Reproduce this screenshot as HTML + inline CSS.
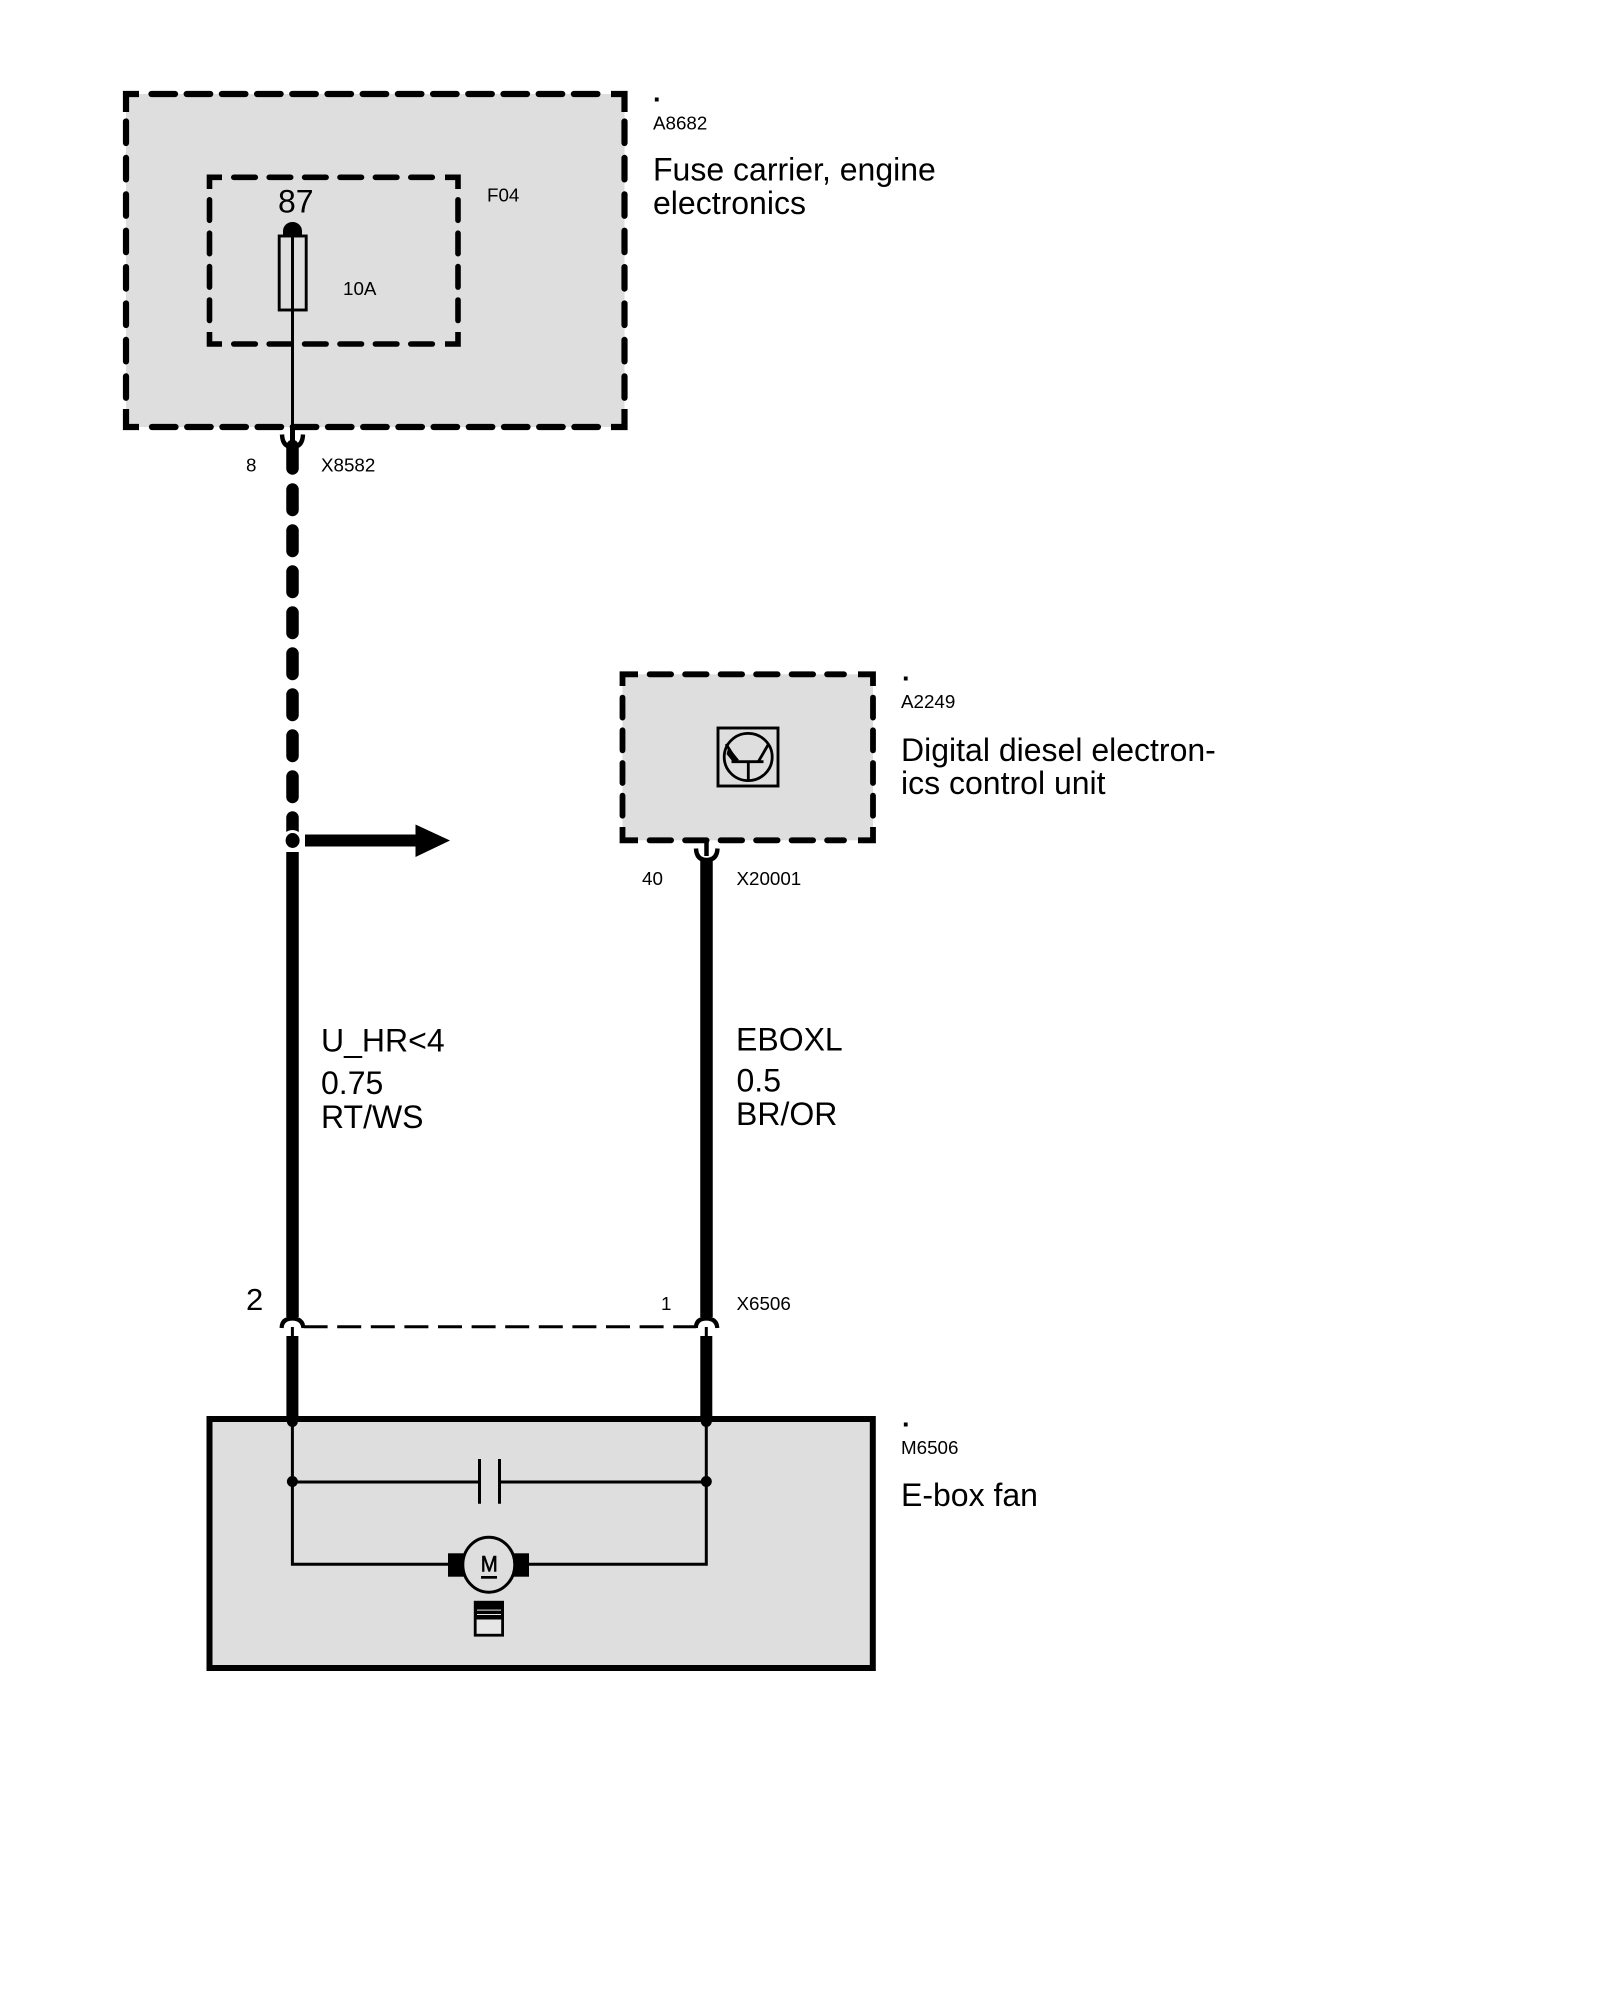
<!DOCTYPE html>
<html lang="en">
<head>
<meta charset="utf-8">
<title>E-box fan wiring diagram</title>
<style>
html,body{margin:0;padding:0;background:#fff}
svg{display:block}
text{font-family:"Liberation Sans",Arial,sans-serif;fill:#000}
.s{font-size:18.8px}
.l{font-size:32px}
.d{font-size:27px;font-weight:bold}
</style>
</head>
<body>
<svg xmlns="http://www.w3.org/2000/svg" width="1600" height="2000" viewBox="0 0 1600 2000">
<rect width="1600" height="2000" fill="#fff"/>

<!-- Fuse carrier box -->
<rect x="126" y="94" width="498.5" height="333" fill="#dedede"/>
<g fill="none" stroke="#000" stroke-width="6.2">
  <path d="M126 112V94H139M611 94H624.5V112M126 409V427H139M611 427H624.5V409" stroke-linejoin="miter"/>
  <g stroke-linecap="round">
    <path d="M151.5 94H600" stroke-dasharray="23.5 11.7"/>
    <path d="M152 427H600" stroke-dasharray="23.5 11.7"/>
    <path d="M126 121.5V403" stroke-dasharray="21.5 14.9"/>
    <path d="M624.5 121.5V403" stroke-dasharray="21.5 14.9"/>
  </g>
</g>

<!-- F04 inner box -->
<g fill="none" stroke="#000" stroke-width="5.6">
  <path d="M209.5 189V177.3H222M445 177.3H458V189M209.5 332V344H222M445 344H458V332"/>
  <g stroke-linecap="round">
    <path d="M233.8 177.3H437" stroke-dasharray="21.5 13.9"/>
    <path d="M233.8 344H437" stroke-dasharray="21.5 13.9"/>
    <path d="M209.5 199.8V330" stroke-dasharray="20.5 12.9"/>
    <path d="M458 199.8V330" stroke-dasharray="20.5 12.9"/>
  </g>
</g>

<!-- Fuse -->
<path d="M283 236V231A9.5 9 0 0 1 302 231V236Z" fill="#000"/>
<rect x="279.2" y="236" width="27" height="74" fill="none" stroke="#000" stroke-width="2.9"/>
<path d="M292.5 232V440" stroke="#000" stroke-width="3" fill="none"/>
<path d="M292.5 427V442" stroke="#000" stroke-width="5" fill="none"/>

<!-- Upper connector and dashed wire -->
<path d="M282 434.5Q282.5 447 292.5 447Q302.5 447 303 434.5" fill="none" stroke="#000" stroke-width="4.4"/>
<path d="M292.5 446V468.5" stroke="#000" stroke-width="12.5" stroke-linecap="round" fill="none"/>
<path d="M292.5 489.5V835" stroke="#000" stroke-width="12.5" stroke-linecap="round" stroke-dasharray="20.5 20.5" fill="none"/>

<!-- Splice node and arrow -->
<circle cx="292.4" cy="841" r="11" fill="#fff"/>
<ellipse cx="292.6" cy="840.5" rx="7" ry="7.5" fill="#000"/>
<path d="M305 834.5H415.5V824.5L450 840.5L415.5 857V846.5H305Z" fill="#000"/>

<!-- A2249 box -->
<rect x="622.5" y="674.3" width="250.5" height="166" fill="#dedede"/>
<g fill="none" stroke="#000" stroke-width="5.8">
  <path d="M622.5 686V674.3H638M858 674.3H873V686M622.5 827V840.3H638M858 840.3H873V827"/>
  <g stroke-linecap="round">
    <path d="M649.6 674.3H844" stroke-dasharray="21.5 14"/>
    <path d="M649.6 840.3H844" stroke-dasharray="21.5 14"/>
    <path d="M622.5 697.6V818" stroke-dasharray="20 12.7"/>
    <path d="M873 697.6V818" stroke-dasharray="20 12.7"/>
  </g>
</g>

<!-- Transistor symbol -->
<rect x="718" y="728" width="60" height="58" fill="none" stroke="#000" stroke-width="2.9"/>
<ellipse cx="748.2" cy="757" rx="24" ry="23.6" fill="none" stroke="#000" stroke-width="2.8"/>
<g stroke="#000" fill="none" stroke-width="2.8">
  <path d="M731.5 761.7H763.5"/>
  <path d="M748.3 761.7V780"/>
  <path d="M758.3 761.7L768 745"/>
  <path d="M726 744L737 761.7"/>
</g>
<path d="M728.5 747L739 760L733 762L726.5 754Z" fill="#000"/>

<!-- Right upper wire -->
<path d="M706.5 842V856" stroke="#000" stroke-width="4.5" fill="none"/>
<path d="M696 848.5Q696.5 860 706.5 860Q717 860 717.5 848.5" fill="none" stroke="#000" stroke-width="4.4"/>
<path d="M706.5 858V1317" stroke="#000" stroke-width="12.5" fill="none"/>
<path d="M292.5 852V1317" stroke="#000" stroke-width="12.5" fill="none"/>

<!-- Lower connectors -->
<g fill="none" stroke="#000">
  <path d="M281.6 1328Q282 1318.5 292.4 1318.5Q302.6 1318.5 303.4 1328" stroke-width="4.2"/>
  <path d="M695.8 1328Q696.2 1318.5 706.3 1318.5Q716.6 1318.5 717.3 1328" stroke-width="4.2"/>
  <path d="M292.4 1327V1340M706.3 1327V1340" stroke-width="3"/>
  <path d="M303.6 1326.7H696" stroke-width="3" stroke-dasharray="24 9.6"/>
  <path d="M292.4 1336V1419M706.3 1336V1419" stroke-width="12"/>
</g>

<!-- E-box fan box -->
<rect x="209.5" y="1419" width="663.3" height="249" fill="#dedede" stroke="#000" stroke-width="6"/>
<circle cx="292.4" cy="1421.5" r="5.5" fill="#000"/>
<circle cx="706.3" cy="1421.5" r="5.5" fill="#000"/>
<g fill="none" stroke="#000" stroke-width="3">
  <path d="M292.4 1419V1564.3H450M706.3 1419V1564.3H528"/>
  <path d="M292.4 1482H479.5M499.5 1482H706.3"/>
  <path d="M479.5 1459V1503.7M499.5 1459V1503.7"/>
</g>
<ellipse cx="292.4" cy="1481.5" rx="5.5" ry="5.5" fill="#000"/>
<ellipse cx="706.3" cy="1481.5" rx="5.5" ry="5.5" fill="#000"/>

<!-- Motor -->
<rect x="448" y="1553.3" width="17" height="23.4" fill="#000"/>
<rect x="513" y="1553.3" width="16" height="23.4" fill="#000"/>
<ellipse cx="488.8" cy="1564.7" rx="26" ry="27.5" fill="#dedede" stroke="#000" stroke-width="3"/>
<text x="489.2" y="1571.7" text-anchor="middle" textLength="17" lengthAdjust="spacingAndGlyphs" style="font-size:22px;stroke:#000;stroke-width:.6px">M</text>
<rect x="481" y="1576" width="16" height="2.7" fill="#000"/>

<!-- Fan symbol -->
<rect x="475.2" y="1602.2" width="27.4" height="33" fill="#e6e6e6" stroke="#000" stroke-width="2.8"/>
<rect x="475" y="1602" width="28" height="17.5" fill="#000"/>
<rect x="477" y="1609.6" width="24" height="1" fill="#e6e6e6"/>
<rect x="477" y="1614" width="24" height="1" fill="#e6e6e6"/>

<!-- Labels -->
<text class="d" x="653" y="101.5">.</text>
<text class="s" x="653" y="129.3">A8682</text>
<text class="l" x="653" y="180.7">Fuse carrier, engine</text>
<text class="l" x="653" y="214">electronics</text>
<text class="s" x="487" y="201.7">F04</text>
<text x="278" y="212.7" style="font-size:32px">87</text>
<text class="s" x="343" y="295">10A</text>
<text class="s" x="246" y="471.7">8</text>
<text class="s" x="321" y="471.7">X8582</text>

<text class="d" x="902" y="680.5">.</text>
<text class="s" x="901" y="708">A2249</text>
<text class="l" x="901" y="761">Digital diesel electron-</text>
<text class="l" x="901" y="794">ics control unit</text>
<text class="s" x="642" y="885">40</text>
<text class="s" x="736.5" y="885">X20001</text>

<text class="l" x="321" y="1051.7">U_HR&lt;4</text>
<text class="l" x="321" y="1094">0.75</text>
<text class="l" x="321" y="1128">RT/WS</text>
<text class="l" x="736" y="1050.7">EBOXL</text>
<text class="l" x="736.5" y="1091.7">0.5</text>
<text class="l" x="736" y="1125">BR/OR</text>

<text x="246" y="1310" style="font-size:31px">2</text>
<text class="s" x="661" y="1310">1</text>
<text class="s" x="736.5" y="1310">X6506</text>

<text class="d" x="902" y="1426.5">.</text>
<text class="s" x="901" y="1454">M6506</text>
<text class="l" x="901" y="1506">E-box fan</text>
</svg>
</body>
</html>
